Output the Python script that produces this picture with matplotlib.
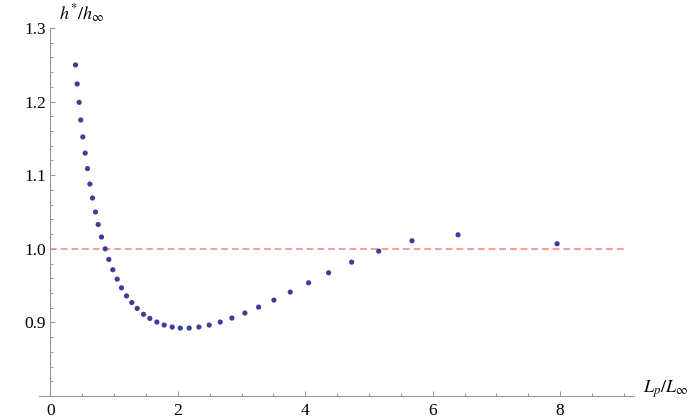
import matplotlib
matplotlib.use("Agg")
import matplotlib.pyplot as plt
from matplotlib.ticker import MultipleLocator, FormatStrFormatter

plt.rcParams['font.family'] = ['Liberation Serif', 'DejaVu Serif']
plt.rcParams['mathtext.fontset'] = 'stix'

# data: L_p/L_inf vs h*/h_inf
lp = [0.393, 0.419, 0.450, 0.476, 0.508, 0.545, 0.581, 0.618, 0.660, 0.707,
      0.749, 0.801, 0.859, 0.916, 0.979, 1.047, 1.115, 1.194, 1.277, 1.361,
      1.461, 1.560, 1.670, 1.785, 1.911, 2.037, 2.178, 2.330, 2.492, 2.665,
      2.848, 3.052, 3.267, 3.508, 3.764, 4.052, 4.366, 4.728, 5.152, 5.675,
      6.398, 7.952]
h = [1.2498, 1.224, 1.199, 1.175, 1.152, 1.130, 1.109, 1.088, 1.069, 1.050,
     1.033, 1.016, 1.000, 0.9855, 0.9715, 0.9588, 0.947, 0.936, 0.927, 0.919,
     0.911, 0.9054, 0.9005, 0.8964, 0.8937, 0.8923, 0.8923, 0.8937, 0.8964, 0.9005,
     0.9059, 0.9127, 0.9208, 0.9303, 0.9412, 0.9538, 0.9674, 0.9819, 0.9968, 1.0109,
     1.019, 1.0068]
ref_level = 1.0
ref_span = [0, 9]

fig = plt.figure(figsize=(6.92, 4.2), dpi=100)
ax = fig.add_axes([39/692, 24/420, 595/692, 368/420])

axis_col = '#9a9a9a'
ax.hlines(ref_level, ref_span[0], ref_span[1], colors='#ff8080', linewidth=1.1,
          linestyles=(0, (4.5, 2.5)), zorder=2)
ax.scatter(lp, h, s=14, color='#3d3d99', edgecolors='none', zorder=3)

ax.set_xlim(-0.18, 9.16)
ax.set_ylim(0.8, 1.3)

for s in ['top', 'right']:
    ax.spines[s].set_visible(False)
ax.spines['left'].set_position(('data', 0))
ax.spines['left'].set_bounds(0.8, 1.3)
for s in ['left', 'bottom']:
    ax.spines[s].set_color(axis_col)
    ax.spines[s].set_linewidth(0.8)

ax.set_xticks([0, 2, 4, 6, 8])
ax.xaxis.set_minor_locator(MultipleLocator(0.5))
ax.set_yticks([0.9, 1.0, 1.1, 1.2, 1.3])
ax.yaxis.set_minor_locator(MultipleLocator(0.02))
ax.yaxis.set_major_formatter(FormatStrFormatter('%.1f'))

ax.tick_params(which='both', direction='in', color=axis_col, width=0.8, labelsize=12.5)
ax.tick_params(which='major', length=3.5)
ax.tick_params(which='minor', length=2)
ax.tick_params(axis='x', pad=5)
ax.tick_params(axis='y', pad=3)

ax.annotate(r'$h^{*}/h_{\infty}$', xy=(0, 1.3), xycoords='data',
            xytext=(6.5, 10), textcoords='offset points',
            ha='left', va='center', fontsize=13)
ax.annotate(r'$L_p/L_{\infty}$', xy=(1, 0), xycoords='axes fraction',
            xytext=(6.5, 5), textcoords='offset points',
            ha='left', va='center', fontsize=13)

fig.savefig('out.png', dpi=100)
